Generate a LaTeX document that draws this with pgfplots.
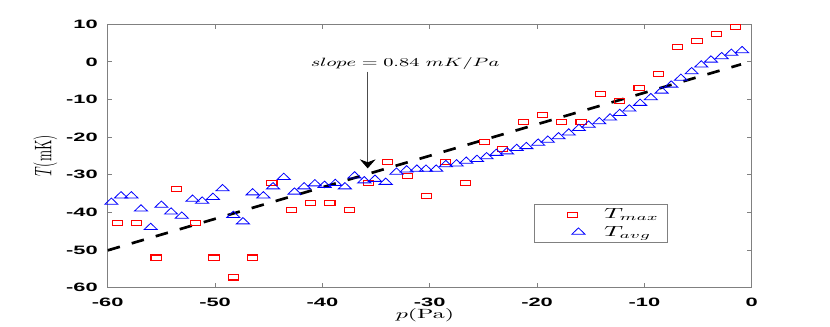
\documentclass[border=0pt]{standalone}
\usepackage{fontspec}
\usepackage{graphicx}
\usepackage{pgfplots}
\pgfplotsset{compat=1.18}
\usetikzlibrary{arrows.meta}
\newfontfamily\tickfont[FakeStretch=1.8]{Liberation Sans}
\pgfplotsset{
  mylegimg/.style={legend image code/.code={\path (0pt,0pt) (45.5pt,0pt); \draw[##1] plot coordinates {(23.75pt,0pt)};}},
  mylegimgb/.style={legend image code/.code={\path (0pt,0pt) (45.5pt,0pt); \draw[##1] plot coordinates {(28.5pt,0pt)};}}}

\pgfplotstableread{
x y
-59.1 -42.9
-57.3 -42.9
-55.5 -52.0
-53.6 -33.9
-51.8 -42.9
-50.1 -52.0
-48.3 -57.3
-46.5 -52.0
-44.7 -32.1
-42.9 -39.4
-41.1 -37.5
-39.3 -37.5
-37.5 -39.4
-35.7 -32.1
-33.9 -26.7
-32.1 -30.4
-30.3 -35.7
-28.5 -26.7
-26.7 -32.1
-24.9 -21.2
-23.2 -23.2
-21.3 -15.9
-19.5 -14.1
-17.7 -15.9
-15.9 -15.9
-14.1 -8.6
-12.3 -10.4
-10.5 -6.85
-8.7 -3.3
-6.9 3.9
-5.1 5.65
-3.3 7.45
-1.5 9.3
}\tmax

\pgfplotstableread{
x y
-59.66 -37.3
-58.76 -35.6
-57.8 -35.6
-56.9 -39.1
-56.0 -44.0
-55.0 -38.1
-54.1 -39.9
-53.1 -41.0
-52.1 -36.5
-51.2 -37.0
-50.2 -36.0
-49.3 -33.7
-48.3 -40.8
-47.4 -42.5
-46.5 -34.8
-45.5 -35.6
-44.6 -33.2
-43.6 -30.7
-42.6 -34.6
-41.7 -33.2
-40.7 -32.4
-39.8 -32.8
-38.8 -32.3
-37.9 -33.2
-37.0 -30.3
-36.1 -31.6
-35.1 -31.2
-34.1 -32.0
-33.1 -29.3
-32.15 -28.7
-31.2 -28.5
-30.35 -28.5
-29.4 -28.5
-28.5 -27.3
-27.5 -27.1
-26.6 -26.4
-25.6 -25.9
-24.7 -25.2
-23.8 -24.3
-22.8 -23.9
-21.9 -23.0
-21.0 -22.5
-19.9 -21.6
-19.0 -20.8
-18.0 -19.9
-17.05 -18.9
-16.1 -17.7
-15.2 -16.8
-14.2 -15.9
-13.2 -14.9
-12.3 -13.7
-11.4 -12.5
-10.4 -11.0
-9.4 -9.5
-8.4 -7.75
-7.5 -6.15
-6.6 -4.35
-5.6 -2.6
-4.7 -0.8
-3.8 0.5
-2.8 1.4
-1.9 2.3
-0.9 3.0
}\tavg

\begin{document}
\begin{tikzpicture}
\path[use as bounding box] (-80.8pt,-29.55pt) rectangle (541.7pt,215.7pt);
\begin{axis}[
  name=ax, at={(0,0)}, anchor=south west,
  width=483pt, height=197.5pt, scale only axis,
  xmin=-60, xmax=0, ymin=-60, ymax=10,
  xtick={-60,-50,...,0}, ytick={-60,-50,...,10},
  axis line style={black!50, line width=0.6pt},
  tick style={black!50, line width=0.6pt},
  major tick length=3.5pt,
  tick label style={font=\fontsize{9.1}{10}\selectfont\tickfont\bfseries},
  /pgf/number format/assume math mode=true,
  xticklabel style={yshift=-4.3pt},
  yticklabel style={xshift=-4pt},
  xlabel={\scalebox{1.8}[1]{$p$(Pa)}},
  ylabel={\scalebox{1}[1.8]{$T$(mK)}},
  label style={font=\fontsize{10.5}{12}\selectfont},
  every axis x label/.style={at={(axis description cs:0.4927,-0.106)}, anchor=center},
  every axis y label/.style={at={(axis description cs:-0.097,0.5)}, rotate=90, anchor=center},
  legend style={at={(axis description cs:0.6624,0.316)}, anchor=north west,
    draw=black!50, line width=0.6pt, inner xsep=4pt, inner ysep=1pt,
    font=\fontsize{10.5}{12}\selectfont},
  legend cell align=left,
]
\addplot[only marks, mark=square, mark size=1.9pt,
  mark options={xscale=2, draw=red, line width=0.8pt}, mylegimg]
  table {\tmax};
\addlegendentry{\scalebox{1.8}[1]{$T_{max}$}}
\addplot[only marks, mark=triangle, mark size=3.15pt,
  mark options={xscale=1.8, draw=blue, line width=0.6pt}, mylegimgb]
  table {\tavg};
\addlegendentry{\scalebox{1.8}[1]{$T_{avg}$}}
\addplot[black, line width=2pt, dash pattern=on 9.5pt off 9.25pt, forget plot]
  coordinates {(-60,-50.1) (-1,-0.66)};
\draw[black!70, line width=0.6pt, -{Stealth[length=6.75pt, width=11.8pt, black]}]
  (axis cs:-35.78,-2.6) -- (axis cs:-35.78,-28.3);
\node[anchor=base, font=\fontsize{8.6}{10}\selectfont] at (axis cs:-32.3,-1.1)
  {\scalebox{1.65}[1]{$slope = 0.84\ mK/Pa$}};
\end{axis}
\end{tikzpicture}
\end{document}
